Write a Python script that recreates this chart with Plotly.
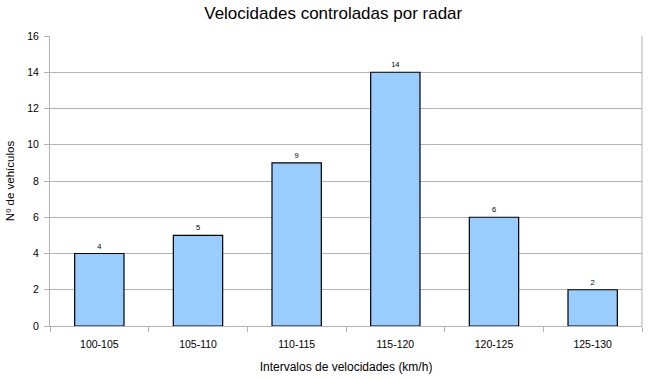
import plotly.graph_objects as go

categories = ["100-105", "105-110", "110-115", "115-120", "120-125", "125-130"]
values = [4, 5, 9, 14, 6, 2]
y_ticks = [0, 2, 4, 6, 8, 10, 12, 14, 16]

fig = go.Figure()
fig.add_trace(go.Bar(
    x=categories, y=values,
    marker=dict(color="#99ccff", line=dict(color="black", width=1.2)),
    text=[str(v) for v in values], textposition="outside",
    textfont=dict(size=7.5, color="black", family="Liberation Sans, Arial"),
    cliponaxis=False,
))

fig.update_layout(
    width=656, height=379,
    margin=dict(l=50, r=14, t=36, b=53),
    paper_bgcolor="white", plot_bgcolor="white",
    font=dict(family="Liberation Sans, Arial", color="black", size=11),
    bargap=0.5,
    showlegend=False,
    title=dict(text="Velocidades controladas por radar", x=0.508, xanchor="center",
               y=1 - 13 / 379, yanchor="middle", font=dict(size=17)),
    xaxis=dict(
        automargin=False,
        showline=True, linecolor="#b3b3b3", linewidth=1,
        ticks="outside", tickson="boundaries", ticklen=5, tickcolor="#b3b3b3",
        mirror=False, showgrid=False,
        ticklabelstandoff=8,
        title=dict(text="Intervalos de velocidades (km/h)", font=dict(size=12), standoff=14),
        tickfont=dict(size=10.5),
    ),
    yaxis=dict(
        automargin=False,
        range=[0, 16], tickvals=y_ticks,
        showline=True, linecolor="#b3b3b3", linewidth=1,
        ticks="outside", ticklen=5, tickcolor="#b3b3b3",
        showgrid=True, gridcolor="#b3b3b3", gridwidth=1,
        zeroline=False,
        ticklabelstandoff=3,
        title=dict(text="Nº de vehículos", font=dict(size=11.5), standoff=10),
        tickfont=dict(size=10.5),
    ),
)
fig.add_shape(type="line", xref="paper", yref="paper", x0=1, x1=1, y0=0, y1=1,
              line=dict(color="#b3b3b3", width=1))

fig.write_html("out.html", config={"displayModeBar": False},
               post_script="document.body.style.margin='0px';")
